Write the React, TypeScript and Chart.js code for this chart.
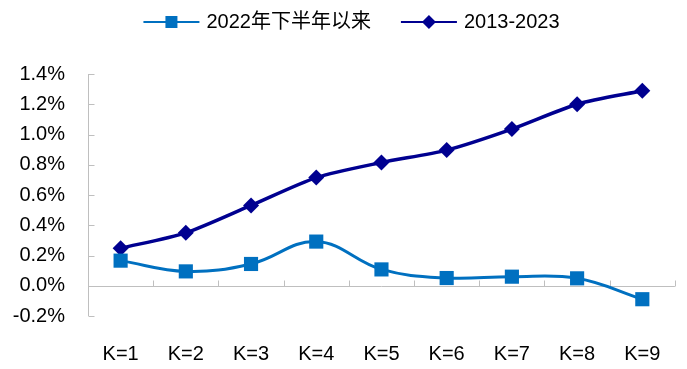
import React, { useEffect, useRef } from "react";
import { Chart, registerables } from "chart.js";

Chart.register(...registerables);

const categories = ["K=1", "K=2", "K=3", "K=4", "K=5", "K=6", "K=7", "K=8", "K=9"];
const seriesRecent = [0.166, 0.095, 0.144, 0.292, 0.108, 0.051, 0.06, 0.049, -0.089];
const seriesLong = [0.248, 0.35, 0.531, 0.715, 0.815, 0.897, 1.036, 1.2, 1.289];
const seriesNames = ["2022年下半年以来", "2013-2023"];
const yMin = -0.2;
const yMax = 1.4;
const yStep = 0.2;

const FONT = "'Liberation Sans', Arial, 'Noto Sans CJK SC', sans-serif";
const AXIS_COLOR = "#BFBFBF";
const LIGHT = "#0070C0";
const DARK = "#000090";

const axisDecor = {
  id: "axisDecor",
  beforeDatasetsDraw(chart: any) {
    const { ctx, chartArea } = chart;
    const x = chart.scales.x;
    const y = chart.scales.y;
    const zero = y.getPixelForValue(0);
    ctx.save();
    ctx.strokeStyle = AXIS_COLOR;
    ctx.lineWidth = 1;
    ctx.beginPath();
    const lx = Math.round(chartArea.left) + 0.5;
    ctx.moveTo(lx, chartArea.top);
    ctx.lineTo(lx, chartArea.bottom);
    y.ticks.forEach((t: any) => {
      const py = Math.round(y.getPixelForValue(t.value)) + 0.5;
      ctx.moveTo(lx, py);
      ctx.lineTo(lx + 6, py);
    });
    const zy = Math.round(zero) + 0.5;
    ctx.moveTo(chartArea.left, zy);
    ctx.lineTo(chartArea.right, zy);
    const n = categories.length;
    for (let i = 0; i <= n; i++) {
      const px = Math.round(x.getPixelForValue(i - 0.5)) + 0.5;
      ctx.moveTo(px, zy);
      ctx.lineTo(px, zy - 6);
    }
    ctx.stroke();
    ctx.restore();
  },
  afterDraw(chart: any) {
    const { ctx } = chart;
    ctx.save();
    ctx.font = `20px ${FONT}`;
    ctx.textBaseline = "middle";
    ctx.fillStyle = "#000";
    const lineLen = 56;
    const gapText = 7;
    const gapItem = 30;
    const widths = chart.data.datasets.map((d: any) => ctx.measureText(d.label).width);
    const total = widths.reduce((a: number, w: number) => a + lineLen + gapText + w, 0) + gapItem * (widths.length - 1);
    let cx = chart.width / 2 + 8 - total / 2;
    const cy = 22;
    chart.data.datasets.forEach((d: any, i: number) => {
      ctx.strokeStyle = d.borderColor;
      ctx.lineWidth = 2;
      ctx.beginPath();
      ctx.moveTo(cx, cy);
      ctx.lineTo(cx + lineLen, cy);
      ctx.stroke();
      const mx = cx + lineLen / 2;
      ctx.fillStyle = d.borderColor;
      ctx.beginPath();
      if (d.pointStyle === "rect") {
        ctx.rect(mx - 6, cy - 6, 12, 12);
      } else {
        ctx.moveTo(mx - 7, cy);
        ctx.lineTo(mx, cy - 7);
        ctx.lineTo(mx + 7, cy);
        ctx.lineTo(mx, cy + 7);
        ctx.closePath();
      }
      ctx.fill();
      ctx.fillStyle = "#000";
      ctx.textAlign = "left";
      ctx.fillText(d.label, cx + lineLen + gapText, cy);
      cx += lineLen + gapText + widths[i] + gapItem;
    });
    ctx.restore();
  },
};

export default function App() {
  const ref = useRef<HTMLCanvasElement>(null);
  useEffect(() => {
    document.body.style.margin = "0";
    const canvas = ref.current;
    if (!canvas) return;
    const chart = new Chart(canvas, {
      type: "line",
      data: {
        labels: categories,
        datasets: [
          {
            label: seriesNames[0],
            data: seriesRecent,
            borderColor: LIGHT,
            backgroundColor: LIGHT,
            borderWidth: 3,
            pointStyle: "rect",
            pointRadius: 10,
            pointBorderWidth: 0,
            pointBackgroundColor: LIGHT,
            tension: 0.4,
          },
          {
            label: seriesNames[1],
            data: seriesLong,
            borderColor: DARK,
            backgroundColor: DARK,
            borderWidth: 3.5,
            pointStyle: "rectRot",
            pointRadius: 8,
            pointBorderWidth: 0,
            pointBackgroundColor: DARK,
            tension: 0.25,
          },
        ],
      },
      options: {
        animation: false,
        responsive: false,
        devicePixelRatio: 1,
        layout: { padding: { top: 74, right: 11, left: 0, bottom: 0 } },
        plugins: {
          legend: { display: false },
          tooltip: { enabled: false },
        },
        scales: {
          x: {
            type: "category",
            offset: true,
            grid: { display: false, drawTicks: false },
            border: { display: false },
            ticks: {
              color: "#000",
              font: { family: FONT, size: 20 },
              padding: 26,
              maxRotation: 0,
            },
            afterFit: (s: any) => {
              s.height = 53;
            },
          },
          y: {
            min: yMin,
            max: yMax,
            grid: { display: false, drawTicks: false },
            border: { display: false },
            ticks: {
              stepSize: yStep,
              color: "#000",
              font: { family: FONT, size: 20 },
              padding: 23,
              callback: (v: any) => {
                const n = Math.abs(Number(v)) < 1e-9 ? 0 : Number(v);
                return n.toFixed(1) + "%";
              },
            },
            afterFit: (s: any) => {
              s.width = 88;
            },
          },
        },
      },
      plugins: [axisDecor],
    });
    return () => chart.destroy();
  }, []);
  return (
    <div style={{ width: 687, height: 369 }}>
      <canvas ref={ref} width={687} height={369} />
    </div>
  );
}
